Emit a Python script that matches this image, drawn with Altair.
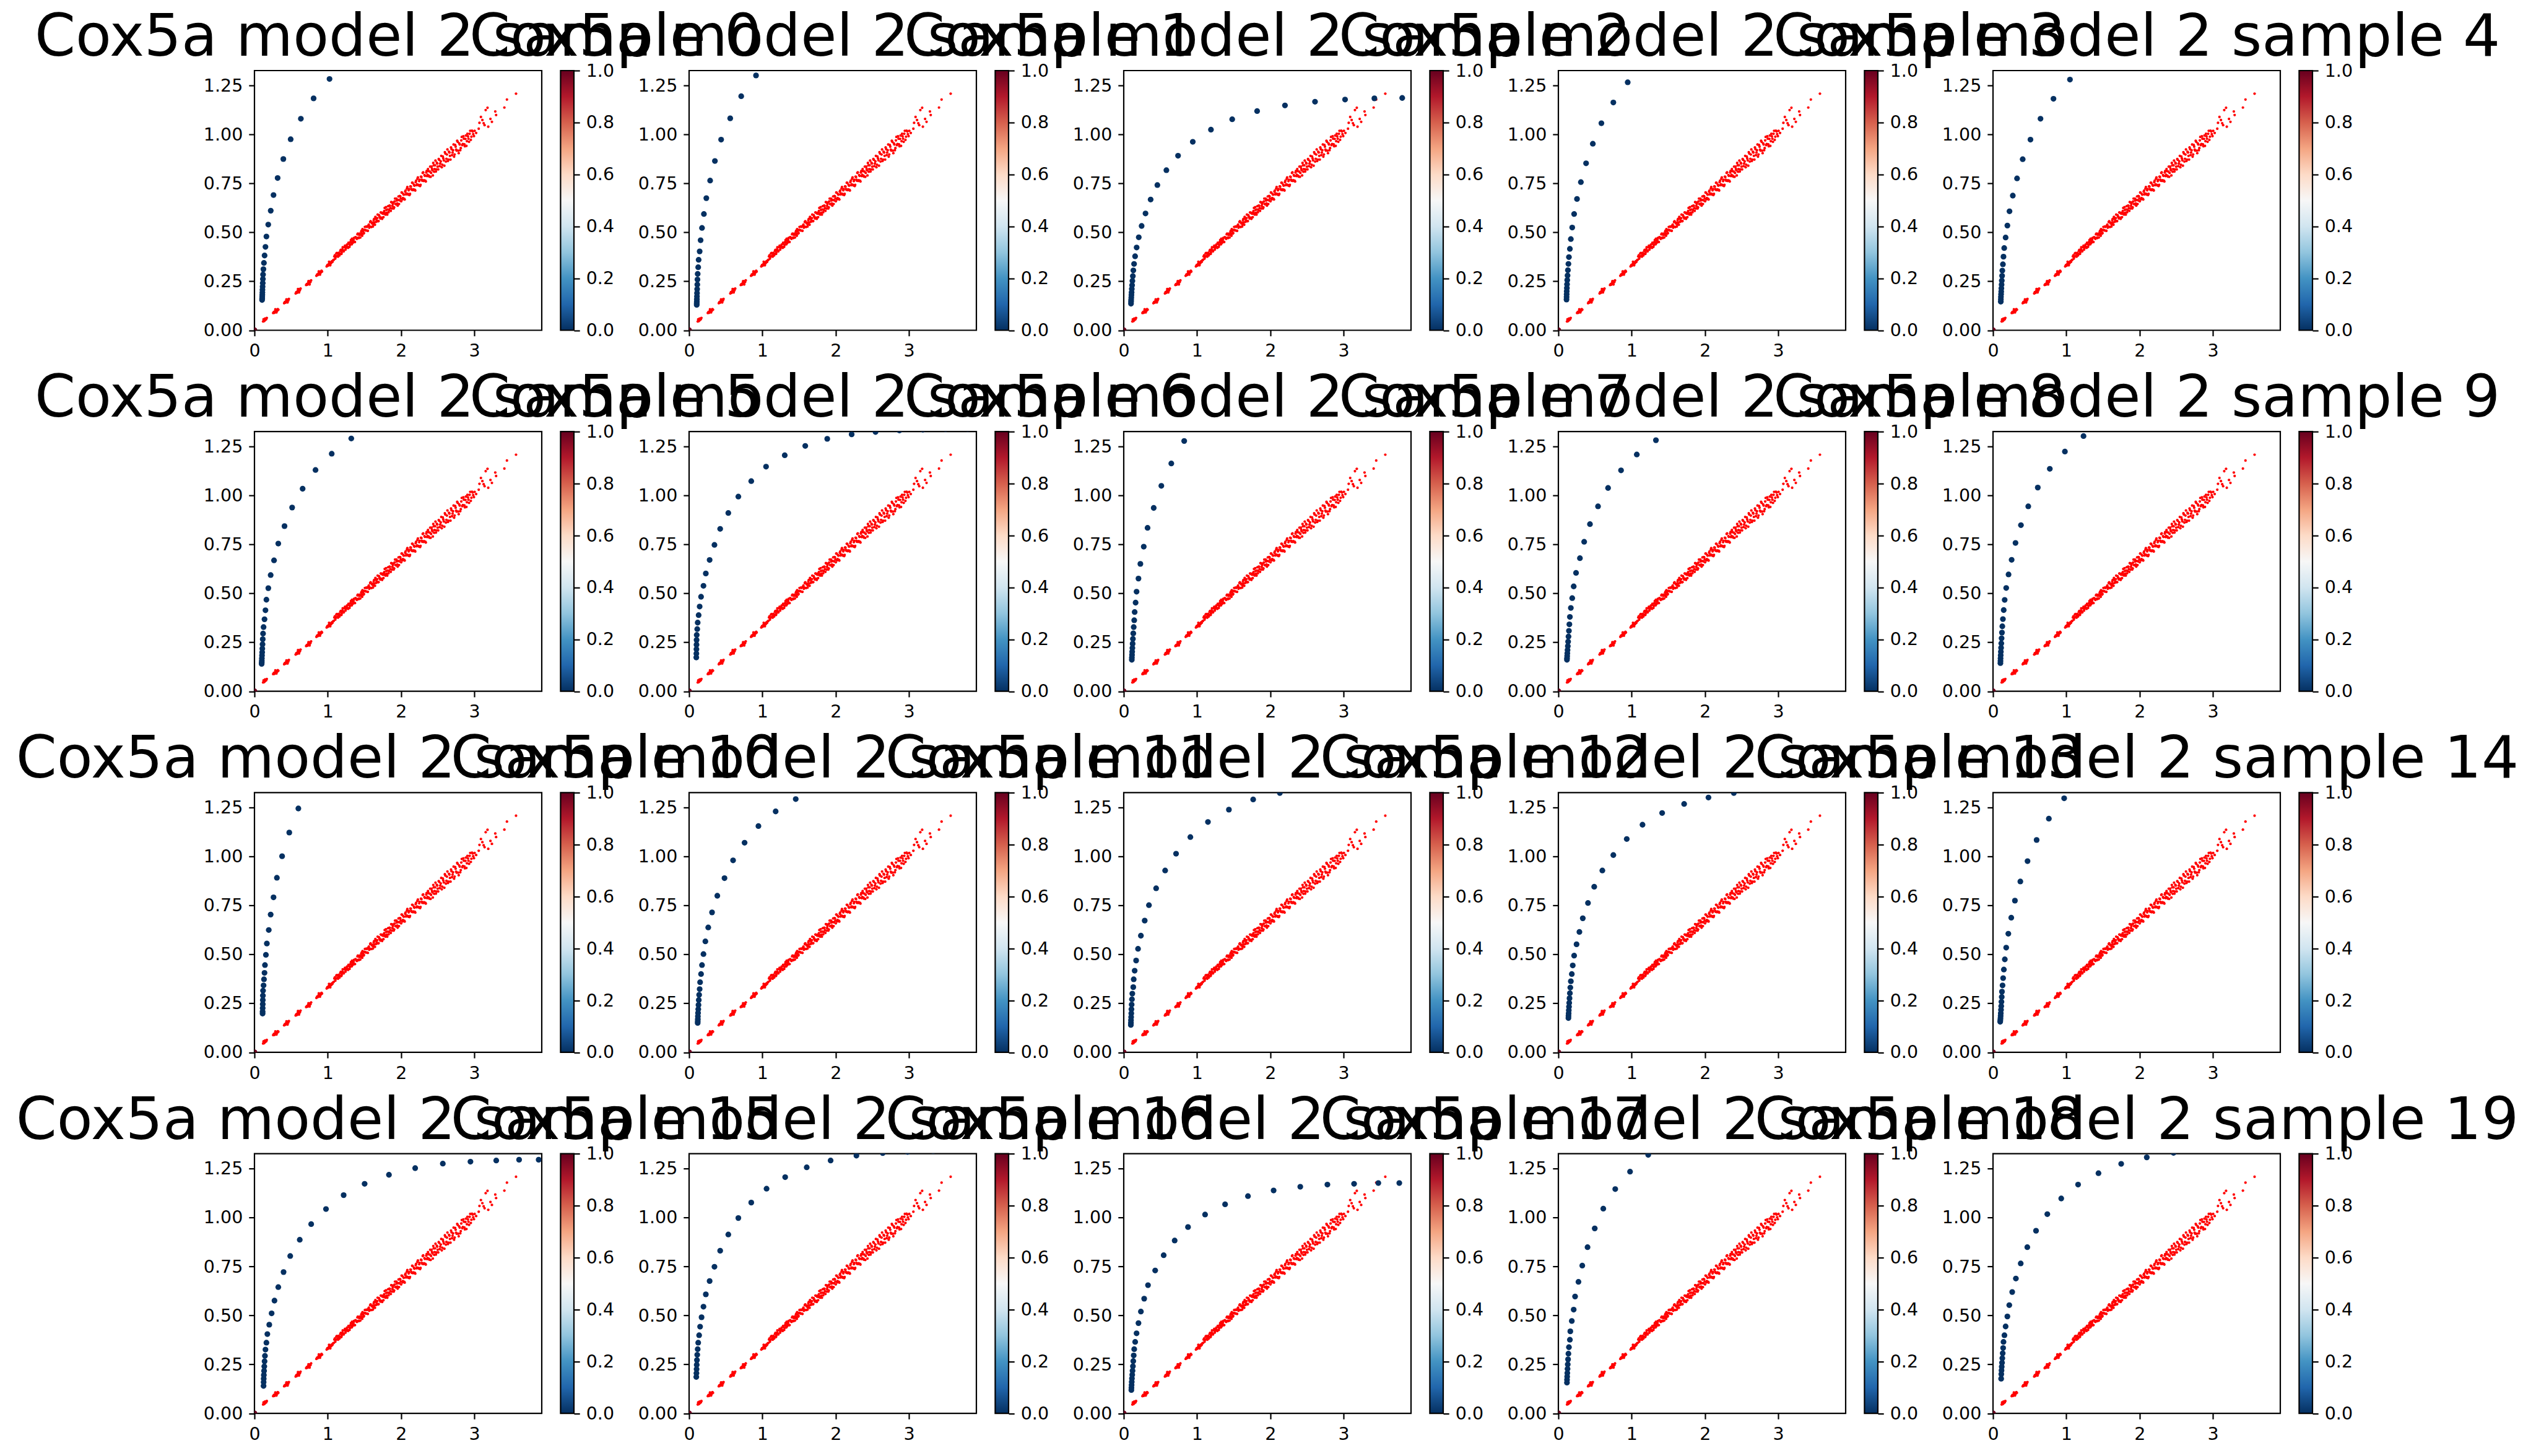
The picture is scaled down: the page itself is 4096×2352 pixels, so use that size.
import altair as alt
import pandas as pd

FONT = "DejaVu Sans"

# ---------------- data ----------------
# red scatter (same in every panel): low clusters
red_low_x = [0.118, 0.124, 0.127, 0.133, 0.139, 0.143, 0.146, 0.152, 0.160, 0.168,
             0.255, 0.265, 0.272, 0.281, 0.285, 0.289, 0.296, 0.300, 0.303, 0.311, 0.318, 0.326,
             0.405, 0.414, 0.423, 0.431, 0.436, 0.440, 0.447, 0.452, 0.455, 0.462, 0.470,
             0.562, 0.571, 0.580, 0.589, 0.594, 0.597, 0.604, 0.608, 0.612, 0.620, 0.629,
             0.705, 0.714, 0.723, 0.731, 0.737, 0.740, 0.748, 0.752, 0.756, 0.764, 0.773,
             0.845, 0.855, 0.864, 0.873, 0.878, 0.882, 0.890, 0.894, 0.898, 0.906, 0.915, 0.922,
             0.985, 0.995, 1.004, 1.013, 1.018, 1.022, 1.030, 1.034, 1.038, 1.046, 1.055, 1.063, 1.072]
red_low_y = [0.045, 0.056, 0.050, 0.047, 0.055, 0.060, 0.052, 0.059, 0.056, 0.063,
             0.088, 0.094, 0.089, 0.097, 0.107, 0.101, 0.095, 0.091, 0.104, 0.100, 0.108, 0.105,
             0.138, 0.144, 0.141, 0.149, 0.158, 0.153, 0.146, 0.142, 0.157, 0.152, 0.160,
             0.188, 0.195, 0.191, 0.200, 0.211, 0.205, 0.197, 0.193, 0.209, 0.204, 0.213,
             0.231, 0.236, 0.233, 0.241, 0.251, 0.245, 0.239, 0.234, 0.250, 0.246, 0.255,
             0.278, 0.285, 0.282, 0.290, 0.301, 0.294, 0.288, 0.284, 0.299, 0.295, 0.304, 0.300,
             0.326, 0.333, 0.330, 0.338, 0.350, 0.343, 0.336, 0.332, 0.347, 0.343, 0.352, 0.349, 0.357]

# red scatter: continuous band (first pass) and outliers
red_band_x = [1.082, 1.097, 1.108, 1.125, 1.140, 1.152, 1.166, 1.178, 1.186, 1.195,
              1.204, 1.213, 1.228, 1.242, 1.256, 1.270, 1.283, 1.297, 1.310, 1.322,
              1.331, 1.340, 1.352, 1.365, 1.378, 1.392, 1.405, 1.418, 1.430, 1.444,
              1.457, 1.466, 1.474, 1.488, 1.500, 1.514, 1.527, 1.540, 1.553, 1.566,
              1.579, 1.592, 1.604, 1.616, 1.627, 1.638, 1.650, 1.662, 1.675, 1.688,
              1.700, 1.712, 1.724, 1.736, 1.748, 1.760, 1.771, 1.782, 1.794, 1.806,
              1.818, 1.830, 1.842, 1.854, 1.866, 1.877, 1.888, 1.900, 1.912, 1.924,
              1.936, 1.948, 1.960, 1.972, 1.984, 1.996, 2.008, 2.020, 2.032, 2.044,
              2.056, 2.068, 2.080, 2.092, 2.104, 2.116, 2.128, 2.140, 2.152, 2.164,
              2.176, 2.188, 2.200, 2.212, 2.224, 2.236, 2.248, 2.260, 2.272, 2.284,
              2.296, 2.308, 2.320, 2.332, 2.344, 2.356, 2.368, 2.380, 2.392, 2.404,
              2.416, 2.428, 2.440, 2.452, 2.464, 2.476, 2.488, 2.500, 2.514, 2.528,
              2.542, 2.556, 2.570, 2.584, 2.598, 2.612, 2.626, 2.640, 2.654, 2.668,
              2.682, 2.696, 2.710, 2.724, 2.738, 2.752, 2.766, 2.780, 2.794, 2.808,
              2.822, 2.836, 2.850, 2.864, 2.878, 2.892, 2.906, 2.920, 2.936, 2.952,
              2.968, 2.985, 3.004, 3.025, 3.060, 3.070, 3.090, 3.110, 3.127, 3.140,
              3.155, 3.180, 3.190, 3.220, 3.240, 3.286, 3.297, 3.410, 3.445, 3.569]
red_band_y = [0.360, 0.383, 0.375, 0.395, 0.376, 0.396, 0.390, 0.411, 0.390, 0.408,
              0.424, 0.408, 0.424, 0.412, 0.429, 0.426, 0.447, 0.426, 0.451, 0.447,
              0.468, 0.446, 0.463, 0.451, 0.476, 0.469, 0.490, 0.473, 0.487, 0.474,
              0.504, 0.493, 0.517, 0.494, 0.513, 0.512, 0.530, 0.509, 0.534, 0.524,
              0.553, 0.528, 0.546, 0.530, 0.562, 0.551, 0.579, 0.554, 0.573, 0.557,
              0.588, 0.577, 0.602, 0.575, 0.596, 0.578, 0.609, 0.598, 0.629, 0.601,
              0.617, 0.603, 0.637, 0.624, 0.655, 0.622, 0.645, 0.622, 0.658, 0.645,
              0.673, 0.648, 0.666, 0.645, 0.686, 0.673, 0.704, 0.669, 0.695, 0.672,
              0.708, 0.694, 0.724, 0.697, 0.715, 0.691, 0.735, 0.722, 0.754, 0.716,
              0.744, 0.718, 0.757, 0.741, 0.774, 0.743, 0.762, 0.737, 0.785, 0.769,
              0.804, 0.763, 0.793, 0.764, 0.806, 0.788, 0.824, 0.790, 0.811, 0.784,
              0.836, 0.817, 0.855, 0.810, 0.843, 0.811, 0.856, 0.836, 0.875, 0.839,
              0.863, 0.833, 0.888, 0.868, 0.910, 0.862, 0.898, 0.865, 0.912, 0.891,
              0.934, 0.895, 0.920, 0.887, 0.947, 0.923, 0.968, 0.918, 0.955, 0.920,
              0.970, 0.946, 0.991, 0.950, 0.978, 0.942, 1.004, 0.979, 1.004, 0.973,
              1.020, 1.002, 1.019, 1.008, 1.030, 1.060, 1.090, 1.074, 1.058, 1.048,
              1.125, 1.137, 1.040, 1.080, 1.065, 1.118, 1.100, 1.138, 1.179, 1.209]

# red scatter: continuous band (second pass)
red_band2_x = [1.090, 1.103, 1.117, 1.131, 1.146, 1.160, 1.172, 1.190, 1.200, 1.218,
               1.235, 1.249, 1.263, 1.277, 1.290, 1.303, 1.316, 1.327, 1.336, 1.346,
               1.358, 1.371, 1.385, 1.398, 1.411, 1.424, 1.437, 1.450, 1.462, 1.470,
               1.481, 1.494, 1.507, 1.520, 1.534, 1.547, 1.560, 1.572, 1.585, 1.598,
               1.610, 1.622, 1.633, 1.644, 1.656, 1.669, 1.681, 1.694, 1.706, 1.718,
               1.730, 1.742, 1.754, 1.766, 1.777, 1.788, 1.800, 1.812, 1.824, 1.836,
               1.848, 1.860, 1.872, 1.883, 1.894, 1.906, 1.918, 1.930, 1.942, 1.954,
               1.966, 1.978, 1.990, 2.002, 2.014, 2.026, 2.038, 2.050, 2.062, 2.074,
               2.086, 2.098, 2.110, 2.122, 2.134, 2.146, 2.158, 2.170, 2.182, 2.194,
               2.206, 2.218, 2.230, 2.242, 2.254, 2.266, 2.278, 2.290, 2.302, 2.314,
               2.326, 2.338, 2.350, 2.362, 2.374, 2.386, 2.398, 2.410, 2.422, 2.434,
               2.446, 2.458, 2.470, 2.482, 2.494, 2.507, 2.521, 2.535, 2.549, 2.563,
               2.577, 2.591, 2.605, 2.619, 2.633, 2.647, 2.661, 2.675, 2.689, 2.703,
               2.717, 2.731, 2.745, 2.759, 2.773, 2.787, 2.801, 2.815, 2.829, 2.843,
               2.857, 2.871, 2.885, 2.899, 2.913, 2.928, 2.944, 2.960, 2.977, 2.995]
red_band2_y = [0.377, 0.366, 0.392, 0.380, 0.390, 0.382, 0.406, 0.397, 0.413, 0.403,
               0.432, 0.421, 0.438, 0.421, 0.441, 0.436, 0.461, 0.439, 0.459, 0.455,
               0.472, 0.451, 0.474, 0.467, 0.494, 0.471, 0.494, 0.488, 0.509, 0.483,
               0.505, 0.497, 0.528, 0.510, 0.528, 0.508, 0.540, 0.530, 0.557, 0.528,
               0.550, 0.541, 0.569, 0.539, 0.570, 0.561, 0.591, 0.558, 0.581, 0.571,
               0.601, 0.569, 0.601, 0.595, 0.625, 0.591, 0.615, 0.591, 0.634, 0.615,
               0.636, 0.610, 0.654, 0.635, 0.653, 0.628, 0.673, 0.644, 0.663, 0.637,
               0.684, 0.664, 0.684, 0.659, 0.703, 0.676, 0.693, 0.668, 0.714, 0.699,
               0.732, 0.693, 0.722, 0.697, 0.734, 0.718, 0.753, 0.720, 0.739, 0.714,
               0.764, 0.745, 0.781, 0.740, 0.769, 0.743, 0.783, 0.764, 0.807, 0.767,
               0.789, 0.760, 0.814, 0.794, 0.813, 0.785, 0.836, 0.804, 0.825, 0.791,
               0.843, 0.824, 0.867, 0.822, 0.852, 0.822, 0.871, 0.852, 0.891, 0.846,
               0.878, 0.841, 0.903, 0.876, 0.924, 0.872, 0.908, 0.872, 0.925, 0.908,
               0.949, 0.898, 0.938, 0.918, 0.963, 0.905, 0.949, 0.931, 0.988, 0.952,
               0.979, 0.940, 0.995, 0.966, 0.991, 0.963, 1.019, 0.989, 1.016, 0.992]

# blue points (value 0 of the colour map), one list per sample
blue_x = [
    [1.024, 0.807, 0.633, 0.494, 0.394, 0.316, 0.260, 0.222, 0.188, 0.163, 0.150, 0.138, 0.129, 0.122, 0.117, 0.115, 0.113, 0.111, 0.109, 0.108, 0.107, 0.106, 0.105, 0.104],
    [0.913, 0.711, 0.561, 0.437, 0.352, 0.287, 0.235, 0.202, 0.176, 0.157, 0.144, 0.130, 0.124, 0.117, 0.114, 0.112, 0.110, 0.108, 0.107, 0.106, 0.105, 0.104, 0.104],
    [3.80, 3.42, 3.02, 2.61, 2.20, 1.82, 1.48, 1.19, 0.942, 0.741, 0.582, 0.459, 0.367, 0.297, 0.244, 0.205, 0.176, 0.155, 0.141, 0.131, 0.124, 0.118, 0.114, 0.110, 0.107, 0.105, 0.103, 0.101, 0.100, 0.099],
    [0.946, 0.750, 0.587, 0.470, 0.378, 0.307, 0.254, 0.215, 0.189, 0.170, 0.157, 0.144, 0.137, 0.130, 0.125, 0.121, 0.118, 0.116, 0.114, 0.113, 0.112, 0.111],
    [1.050, 0.825, 0.648, 0.511, 0.405, 0.328, 0.270, 0.225, 0.196, 0.172, 0.153, 0.143, 0.135, 0.127, 0.124, 0.120, 0.117, 0.114, 0.112, 0.110, 0.108, 0.107, 0.106],
    [1.321, 1.054, 0.833, 0.657, 0.514, 0.410, 0.325, 0.267, 0.221, 0.189, 0.163, 0.150, 0.137, 0.124, 0.117, 0.113, 0.110, 0.107, 0.105, 0.103, 0.101, 0.100, 0.099, 0.098],
    [3.80, 3.50, 3.19, 2.87, 2.544, 2.218, 1.885, 1.585, 1.305, 1.050, 0.848, 0.672, 0.535, 0.424, 0.346, 0.280, 0.228, 0.196, 0.163, 0.144, 0.130, 0.117, 0.111, 0.104, 0.102, 0.101, 0.100, 0.099, 0.098],
    [0.825, 0.649, 0.513, 0.409, 0.325, 0.273, 0.227, 0.201, 0.175, 0.162, 0.149, 0.143, 0.136, 0.130, 0.125, 0.121, 0.118, 0.115, 0.113, 0.111, 0.110],
    [1.331, 1.070, 0.855, 0.678, 0.541, 0.431, 0.352, 0.294, 0.241, 0.209, 0.189, 0.170, 0.157, 0.150, 0.144, 0.138, 0.133, 0.129, 0.125, 0.122, 0.120, 0.118, 0.117],
    [1.235, 0.981, 0.775, 0.611, 0.481, 0.381, 0.307, 0.254, 0.212, 0.180, 0.159, 0.146, 0.135, 0.127, 0.122, 0.117, 0.113, 0.110, 0.107, 0.105, 0.103, 0.102, 0.101],
    [0.599, 0.475, 0.377, 0.306, 0.260, 0.221, 0.195, 0.169, 0.156, 0.143, 0.137, 0.130, 0.124, 0.117, 0.115, 0.114, 0.113, 0.112, 0.111, 0.111],
    [1.455, 1.181, 0.946, 0.757, 0.600, 0.483, 0.385, 0.313, 0.261, 0.222, 0.196, 0.176, 0.163, 0.150, 0.144, 0.137, 0.132, 0.128, 0.125, 0.122, 0.120, 0.119, 0.118, 0.117],
    [2.55, 2.130, 1.766, 1.435, 1.149, 0.909, 0.714, 0.565, 0.442, 0.344, 0.286, 0.234, 0.195, 0.169, 0.149, 0.136, 0.130, 0.117, 0.112, 0.108, 0.105, 0.103, 0.101, 0.099, 0.098, 0.097],
    [2.75, 2.394, 2.048, 1.716, 1.416, 1.148, 0.933, 0.750, 0.600, 0.489, 0.404, 0.333, 0.287, 0.248, 0.215, 0.196, 0.183, 0.170, 0.163, 0.157, 0.152, 0.148, 0.145, 0.142, 0.140, 0.138, 0.137],
    [0.971, 0.762, 0.595, 0.471, 0.373, 0.299, 0.249, 0.209, 0.180, 0.161, 0.148, 0.138, 0.130, 0.122, 0.119, 0.115, 0.112, 0.109, 0.106, 0.104, 0.102, 0.100, 0.098],
    [3.878, 3.611, 3.299, 2.947, 2.570, 2.193, 1.835, 1.503, 1.217, 0.976, 0.774, 0.618, 0.488, 0.397, 0.325, 0.273, 0.234, 0.202, 0.176, 0.163, 0.150, 0.143, 0.138, 0.134, 0.131, 0.128, 0.126, 0.125, 0.124],
    [3.33, 2.981, 2.642, 2.283, 1.931, 1.605, 1.311, 1.057, 0.848, 0.672, 0.535, 0.424, 0.346, 0.280, 0.228, 0.196, 0.170, 0.150, 0.137, 0.124, 0.117, 0.111, 0.107, 0.104, 0.102, 0.100, 0.098],
    [3.760, 3.474, 3.143, 2.779, 2.409, 2.045, 1.695, 1.383, 1.110, 0.877, 0.695, 0.545, 0.429, 0.331, 0.279, 0.234, 0.201, 0.175, 0.156, 0.143, 0.136, 0.130, 0.125, 0.120, 0.116, 0.112, 0.109, 0.107, 0.105, 0.104],
    [1.226, 0.978, 0.776, 0.613, 0.496, 0.398, 0.326, 0.274, 0.228, 0.209, 0.183, 0.163, 0.157, 0.144, 0.137, 0.132, 0.128, 0.125, 0.122, 0.120, 0.118, 0.117],
    [2.85, 2.463, 2.098, 1.749, 1.439, 1.161, 0.931, 0.741, 0.587, 0.468, 0.378, 0.312, 0.262, 0.222, 0.196, 0.172, 0.156, 0.143, 0.138, 0.132, 0.127, 0.123, 0.119, 0.116, 0.113, 0.111],
]
blue_y = [
    [1.284, 1.185, 1.081, 0.976, 0.875, 0.778, 0.691, 0.611, 0.540, 0.479, 0.426, 0.382, 0.344, 0.312, 0.285, 0.262, 0.241, 0.223, 0.207, 0.193, 0.181, 0.171, 0.162, 0.155],
    [1.302, 1.196, 1.083, 0.974, 0.865, 0.765, 0.675, 0.594, 0.523, 0.460, 0.403, 0.360, 0.322, 0.288, 0.259, 0.233, 0.210, 0.190, 0.173, 0.159, 0.147, 0.138, 0.130],
    [1.187, 1.185, 1.179, 1.168, 1.149, 1.120, 1.078, 1.025, 0.963, 0.892, 0.818, 0.742, 0.668, 0.597, 0.533, 0.475, 0.423, 0.378, 0.339, 0.306, 0.277, 0.252, 0.230, 0.211, 0.194, 0.180, 0.167, 0.156, 0.146, 0.136],
    [1.267, 1.164, 1.058, 0.953, 0.853, 0.757, 0.671, 0.594, 0.525, 0.466, 0.416, 0.374, 0.339, 0.307, 0.280, 0.256, 0.235, 0.216, 0.199, 0.184, 0.170, 0.157],
    [1.281, 1.183, 1.081, 0.974, 0.874, 0.776, 0.688, 0.608, 0.535, 0.474, 0.420, 0.376, 0.337, 0.305, 0.278, 0.254, 0.233, 0.214, 0.198, 0.184, 0.171, 0.158, 0.146],
    [1.292, 1.214, 1.131, 1.035, 0.939, 0.844, 0.755, 0.669, 0.594, 0.527, 0.468, 0.414, 0.368, 0.328, 0.295, 0.266, 0.240, 0.218, 0.199, 0.183, 0.168, 0.156, 0.147, 0.140],
    [1.340, 1.339, 1.337, 1.333, 1.325, 1.313, 1.290, 1.254, 1.206, 1.148, 1.074, 0.995, 0.911, 0.830, 0.748, 0.671, 0.602, 0.539, 0.483, 0.433, 0.389, 0.351, 0.318, 0.288, 0.262, 0.238, 0.215, 0.193, 0.173],
    [1.279, 1.164, 1.050, 0.937, 0.835, 0.739, 0.651, 0.576, 0.509, 0.453, 0.405, 0.363, 0.328, 0.296, 0.268, 0.243, 0.221, 0.202, 0.186, 0.172, 0.161],
    [1.283, 1.210, 1.129, 1.039, 0.945, 0.854, 0.764, 0.680, 0.605, 0.536, 0.476, 0.426, 0.380, 0.342, 0.309, 0.280, 0.254, 0.231, 0.211, 0.194, 0.180, 0.169, 0.161],
    [1.304, 1.225, 1.137, 1.041, 0.945, 0.849, 0.758, 0.672, 0.597, 0.528, 0.467, 0.415, 0.369, 0.332, 0.300, 0.271, 0.245, 0.222, 0.202, 0.184, 0.168, 0.155, 0.144],
    [1.246, 1.123, 1.002, 0.892, 0.792, 0.704, 0.625, 0.556, 0.498, 0.446, 0.406, 0.373, 0.342, 0.315, 0.290, 0.267, 0.246, 0.226, 0.208, 0.198],
    [1.294, 1.231, 1.156, 1.071, 0.981, 0.890, 0.800, 0.715, 0.638, 0.567, 0.502, 0.446, 0.400, 0.358, 0.323, 0.294, 0.267, 0.242, 0.220, 0.201, 0.184, 0.170, 0.159, 0.150],
    [1.345, 1.325, 1.292, 1.240, 1.177, 1.100, 1.015, 0.929, 0.838, 0.752, 0.673, 0.596, 0.529, 0.469, 0.417, 0.373, 0.333, 0.300, 0.271, 0.244, 0.220, 0.199, 0.180, 0.164, 0.151, 0.140],
    [1.342, 1.325, 1.302, 1.269, 1.223, 1.163, 1.090, 1.008, 0.929, 0.846, 0.763, 0.685, 0.615, 0.552, 0.494, 0.444, 0.400, 0.363, 0.331, 0.302, 0.276, 0.253, 0.233, 0.215, 0.199, 0.186, 0.175],
    [1.298, 1.194, 1.085, 0.977, 0.873, 0.775, 0.688, 0.606, 0.535, 0.475, 0.423, 0.379, 0.342, 0.310, 0.283, 0.258, 0.236, 0.217, 0.200, 0.186, 0.174, 0.164, 0.156],
    [1.296, 1.296, 1.292, 1.286, 1.276, 1.253, 1.219, 1.173, 1.115, 1.044, 0.967, 0.887, 0.804, 0.722, 0.645, 0.576, 0.511, 0.453, 0.405, 0.361, 0.326, 0.294, 0.266, 0.240, 0.217, 0.196, 0.177, 0.159, 0.140],
    [1.340, 1.336, 1.330, 1.317, 1.292, 1.257, 1.207, 1.148, 1.077, 0.998, 0.914, 0.831, 0.749, 0.676, 0.608, 0.545, 0.491, 0.443, 0.399, 0.361, 0.328, 0.299, 0.272, 0.248, 0.226, 0.205, 0.186],
    [1.177, 1.177, 1.173, 1.169, 1.158, 1.139, 1.110, 1.068, 1.016, 0.952, 0.883, 0.808, 0.730, 0.655, 0.586, 0.520, 0.461, 0.409, 0.365, 0.328, 0.296, 0.267, 0.241, 0.218, 0.197, 0.178, 0.161, 0.145, 0.131, 0.119],
    [1.321, 1.235, 1.146, 1.046, 0.945, 0.849, 0.755, 0.672, 0.597, 0.530, 0.472, 0.419, 0.376, 0.338, 0.305, 0.276, 0.250, 0.227, 0.206, 0.188, 0.172, 0.157],
    [1.345, 1.331, 1.308, 1.275, 1.227, 1.169, 1.098, 1.018, 0.933, 0.849, 0.766, 0.689, 0.620, 0.553, 0.495, 0.444, 0.399, 0.365, 0.334, 0.307, 0.282, 0.259, 0.238, 0.219, 0.200, 0.177],
]

# the single colour-map value 1 point at the origin
origin_x = [0.0]
origin_y = [0.0]

x_ticks = [0, 1, 2, 3]
y_ticks = [0.0, 0.25, 0.5, 0.75, 1.0, 1.25]
cbar_ticks = [0.0, 0.2, 0.4, 0.6, 0.8, 1.0]
rdbu_r = ["#053061", "#2166ac", "#4393c3", "#92c5de", "#d1e5f0", "#f7f7f7",
          "#fddbc7", "#f4a582", "#d6604d", "#b2182b", "#67001f"]
titles = [f"Cox5a model 2 sample {i}" for i in range(20)]

# ---------------- layout (already scaled) ----------------
W, H = 464, 419.5
CB_X0, CB_X1 = 494.4, 516.0
LW = 2.2
TICK = 9.2
LABEL_FS = 28.5
TITLE_FS = 94.6

red_df = pd.DataFrame({"x": red_low_x + red_band_x + red_band2_x,
                       "y": red_low_y + red_band_y + red_band2_y})
origin_df = pd.DataFrame({"x": origin_x, "y": origin_y})
cbar_df = pd.DataFrame({"lo": [0.0], "hi": [1.0]})

axis_common = dict(grid=False, domain=False, tickColor="black", tickWidth=LW, tickSize=TICK,
                   labelFont=FONT, labelFontSize=LABEL_FS, labelColor="black",
                   labelPadding=10, labelFlush=False, labelOverlap=False, title=None)

xs = alt.Scale(domain=[0, 3.92], nice=False, zero=False)
ys = alt.Scale(domain=[0, 1.327], nice=False, zero=False)
x_enc = alt.X("x:Q", scale=xs, axis=alt.Axis(values=x_ticks, format="d", **axis_common))
y_enc = alt.Y("y:Q", scale=ys, axis=alt.Axis(values=y_ticks, format=".2f", **axis_common))

grad = alt.LinearGradient(
    gradient="linear",
    stops=[alt.GradientStop(color=c, offset=i / 10) for i, c in enumerate(rdbu_r)],
    x1=0, x2=0, y1=1, y2=0,
)


def panel(i):
    bdf = pd.DataFrame([{"x": a, "y": b} for a, b in zip(blue_x[i], blue_y[i])])
    red = alt.Chart(red_df).mark_circle(size=18, color="#ff0000", opacity=1, clip=True).encode(x=x_enc, y=y_enc)
    blue = alt.Chart(bdf).mark_circle(size=86, color="#053061", opacity=1, clip=True).encode(x=x_enc, y=y_enc)
    orig = alt.Chart(origin_df).mark_circle(size=86, color="#67001f", opacity=1, clip=True).encode(x=x_enc, y=y_enc)
    data = alt.layer(red, blue, orig)
    cbar = alt.Chart(cbar_df).mark_rect(fill=grad, stroke="black", strokeWidth=LW).encode(
        y=alt.Y("lo:Q", scale=alt.Scale(domain=[0, 1], nice=False, zero=False),
                axis=alt.Axis(orient="right", offset=CB_X1 - W, values=cbar_ticks, format=".1f", **axis_common)),
        y2="hi:Q",
        x=alt.value(CB_X0),
        x2=alt.value(CB_X1),
    )
    return alt.layer(data, cbar).resolve_scale(y="independent").properties(
        width=W, height=H,
        title=alt.TitleParams(titles[i], font=FONT, fontSize=TITLE_FS, fontWeight="normal",
                              color="black", anchor="middle", frame="group",
                              baseline="alphabetic", offset=5, dy=89.5),
    )


chart = alt.ConcatChart(
    concat=[panel(i) for i in range(20)],
    columns=5,
    spacing={"row": 163.2, "column": 238},
    bounds="flush",
).properties(
    padding={"left": 24, "top": 12, "right": 0, "bottom": 0},
    background="white",
).configure_view(stroke="black", strokeWidth=LW)

chart.save("out.html", embed_options={"renderer": "svg", "actions": False})
